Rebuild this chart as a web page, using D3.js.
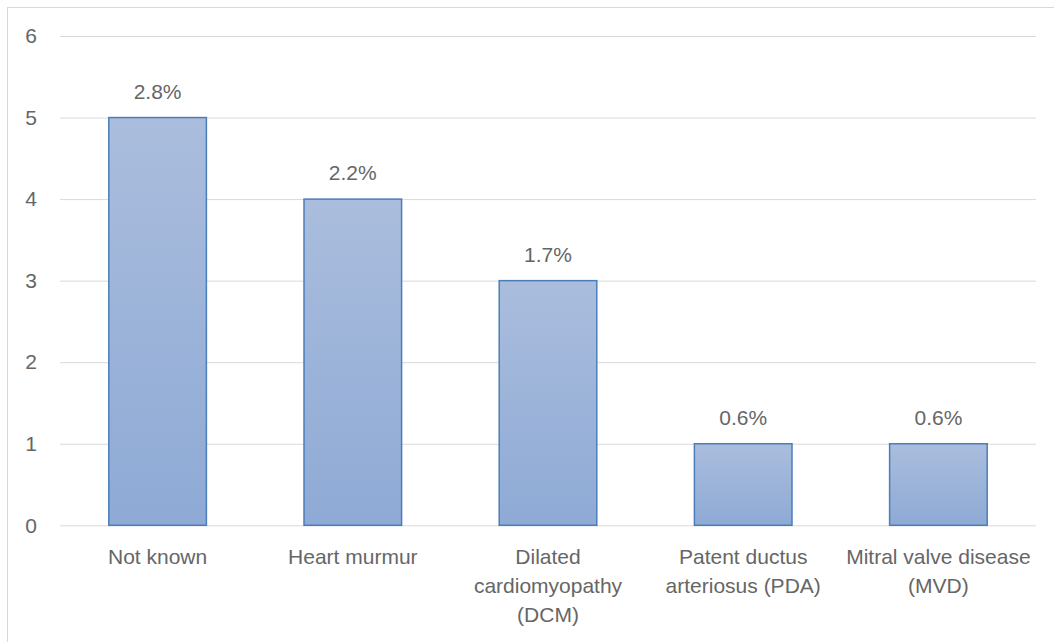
<!DOCTYPE html>
<html>
<head>
<meta charset="utf-8">
<script src="https://cdn.jsdelivr.net/npm/d3@7"></script>
<style>
html,body{margin:0;padding:0;background:#fff;}
svg{display:block;}
text{font-family:"Liberation Sans",Arial,sans-serif;}
</style>
</head>
<body>
<svg id="chart" width="1054" height="642"></svg>
<script>
const categories = ["Not known", "Heart murmur", "Dilated cardiomyopathy (DCM)", "Patent ductus arteriosus (PDA)", "Mitral valve disease (MVD)"];
const categoryLines = [["Not known"], ["Heart murmur"], ["Dilated", "cardiomyopathy", "(DCM)"], ["Patent ductus", "arteriosus (PDA)"], ["Mitral valve disease", "(MVD)"]];
const values = [5, 4, 3, 1, 1];
const valueLabels = ["2.8%", "2.2%", "1.7%", "0.6%", "0.6%"];
const yTicks = [0, 1, 2, 3, 4, 5, 6];

(function () {
const svg = d3.select("#chart");
const pLeft = 60, pRight = 1036, pTop = 36, pBottom = 525.3;
const textColor = "#666666";
const fontSize = 21;

// frame
svg.append("rect").attr("x", 7.5).attr("y", 7.5).attr("width", 1200).attr("height", 1200)
  .attr("fill", "none").attr("stroke", "#d9d9d9").attr("stroke-width", 1);

const defs = svg.append("defs");
const grad = defs.append("linearGradient").attr("id", "barGrad")
  .attr("x1", 0).attr("y1", 0).attr("x2", 0).attr("y2", 1);
grad.append("stop").attr("offset", "0%").attr("stop-color", "#aabddd");
grad.append("stop").attr("offset", "100%").attr("stop-color", "#8eaad5");

const x = d3.scaleBand().domain(categories).range([pLeft, pRight]).paddingInner(0.5).paddingOuter(0.25);
const y = d3.scaleLinear().domain([0, 6]).range([pBottom, pTop]);

// gridlines + y axis labels
const yAxis = d3.axisLeft(y).tickValues(yTicks).tickSize(-(pRight - pLeft)).tickPadding(23).tickFormat(d3.format("d"));
const gy = svg.append("g").attr("transform", `translate(${pLeft},0)`).call(yAxis);
gy.select(".domain").remove();
gy.selectAll(".tick line").attr("stroke", "#d9d9d9").attr("stroke-width", 1);
gy.selectAll(".tick text").attr("fill", textColor).style("font-size", fontSize + "px")
  .style("font-family", '"Liberation Sans",Arial,sans-serif');

// bars
svg.append("g").selectAll("rect").data(values).join("rect")
  .attr("x", (d, i) => x(categories[i]))
  .attr("y", d => y(d))
  .attr("width", x.bandwidth())
  .attr("height", d => y(0) - y(d))
  .attr("fill", "url(#barGrad)")
  .attr("stroke", "#4a7ebb")
  .attr("stroke-width", 1.5);

// value labels
svg.append("g").selectAll("text").data(values).join("text")
  .attr("x", (d, i) => x(categories[i]) + x.bandwidth() / 2)
  .attr("y", d => y(d) - 19)
  .attr("text-anchor", "middle")
  .attr("fill", textColor)
  .style("font-size", fontSize + "px")
  .text((d, i) => valueLabels[i]);

// category labels
const xg = svg.append("g");
categories.forEach((c, i) => {
  const t = xg.append("text")
    .attr("x", x(c) + x.bandwidth() / 2)
    .attr("y", 564)
    .attr("text-anchor", "middle")
    .attr("fill", textColor)
    .style("font-size", fontSize + "px");
  categoryLines[i].forEach((line, j) => {
    t.append("tspan").attr("x", x(c) + x.bandwidth() / 2).attr("dy", j === 0 ? 0 : 29).text(line);
  });
});
})();
</script>
</body>
</html>
